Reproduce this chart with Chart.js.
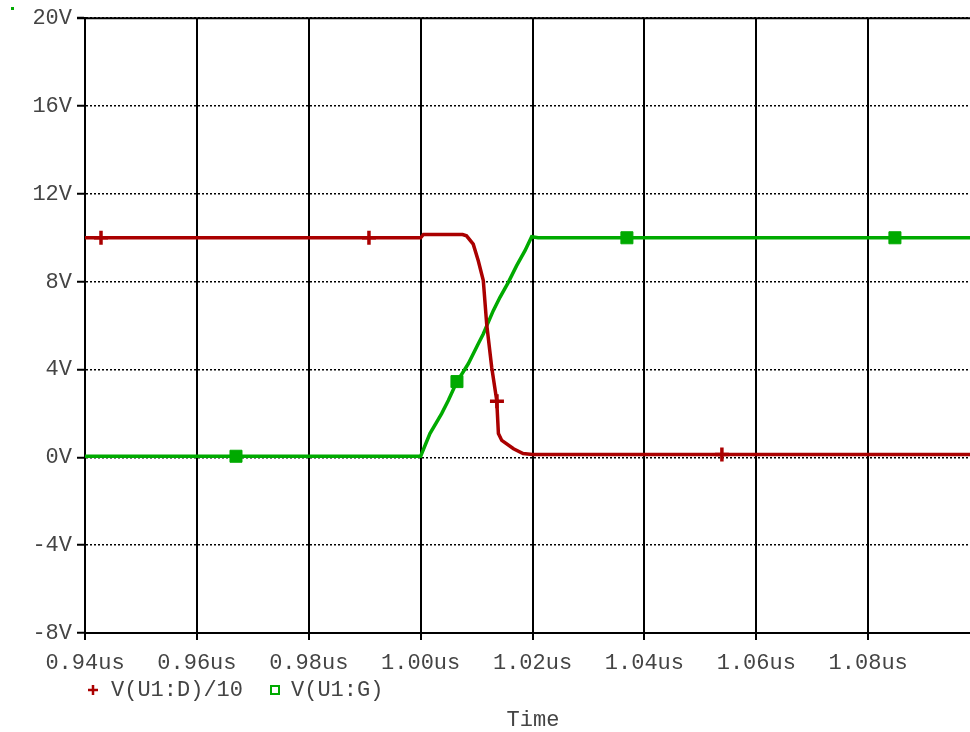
<!DOCTYPE html>
<html>
<head>
<meta charset="utf-8">
<script src="https://cdn.jsdelivr.net/npm/chart.js@4/dist/chart.umd.min.js"></script>
<style>
  html, body { margin: 0; padding: 0; background: #fff; }
  #wrap { width: 970px; height: 732px; position: relative; }
</style>
</head>
<body>
<div id="wrap"><canvas id="chart" width="970" height="732"></canvas></div>
<script>
// time in microseconds
const xTicks = [0.94, 0.96, 0.98, 1.00, 1.02, 1.04, 1.06, 1.08];
const yTicks = [-8, -4, 0, 4, 8, 12, 16, 20];

// V(U1:D)/10 trace
const drainT = [0.94, 1.000, 1.0005, 1.0075, 1.0082, 1.0094, 1.0103, 1.0112, 1.0118, 1.0127, 1.0136, 1.0139, 1.0145, 1.0166, 1.0183, 1.020, 1.0982];
const drainV = [10.0, 10.0, 10.15, 10.15, 10.09, 9.71, 8.95, 8.05, 6.08, 4.1, 2.59, 1.08, 0.77, 0.39, 0.17, 0.13, 0.13];
const drainMarkT = [0.94286, 0.99076, 1.01364, 1.05385];
const drainMarkV = [10.0, 10.0, 2.55, 0.13];

// V(U1:G) trace
const gateT = [0.94, 1.000, 1.00166, 1.00375, 1.00494, 1.00643, 1.00851, 1.0103, 1.01119, 1.01298, 1.01418, 1.01567, 1.01716, 1.01865, 1.01984, 1.021, 1.0982];
const gateV = [0.05, 0.05, 1.08, 1.99, 2.59, 3.42, 4.26, 5.17, 5.62, 6.68, 7.29, 7.97, 8.73, 9.41, 10.05, 10.0, 10.0];
const gateMarkT = [0.96699, 1.00649, 1.03687, 1.08478];
const gateMarkV = [0.05, 3.45, 10.0, 10.0];

const RED = '#aa0000';
const GREEN = '#00aa00';
const FONT = '"Liberation Mono", "Courier New", monospace';
const TEXT = '#444';

const pts = (xs, ys) => xs.map((x, i) => ({ x: x, y: ys[i] }));

// extra bits: top frame line, legend under the ticks, axis title
const extras = {
  id: 'extras',
  afterDraw(chart) {
    const ctx = chart.ctx;
    const a = chart.chartArea;
    ctx.save();
    ctx.strokeStyle = '#000';
    ctx.lineWidth = 2;
    ctx.beginPath();
    ctx.moveTo(a.left - 8, a.top);
    ctx.lineTo(a.right, a.top);
    ctx.stroke();

    // tiny green dot top-left
    ctx.fillStyle = GREEN;
    ctx.fillRect(11, 7, 3, 3);

    ctx.font = '22px ' + FONT;
    ctx.fillStyle = TEXT;
    ctx.textBaseline = 'middle';
    ctx.textAlign = 'left';

    // legend
    ctx.strokeStyle = RED;
    ctx.lineWidth = 2.5;
    ctx.beginPath();
    ctx.moveTo(88, 690); ctx.lineTo(98, 690);
    ctx.moveTo(93, 685); ctx.lineTo(93, 695);
    ctx.stroke();
    ctx.fillText('V(U1:D)/10', 111, 690);

    ctx.strokeStyle = GREEN;
    ctx.lineWidth = 2;
    ctx.strokeRect(271, 686, 8, 8);
    ctx.fillText('V(U1:G)', 291, 690);

    ctx.textAlign = 'center';
    ctx.fillText('Time', 533, 720);
    ctx.restore();
  }
};

new Chart(document.getElementById('chart').getContext('2d'), {
  type: 'line',
  data: {
    datasets: [
      { label: 'V(U1:D)/10', data: pts(drainT, drainV), borderColor: RED, borderWidth: 3.5, pointRadius: 0, tension: 0 },
      { label: 'V(U1:G)', data: pts(gateT, gateV), borderColor: GREEN, borderWidth: 3.5, pointRadius: 0, tension: 0 },
      { label: 'Dmark', data: pts(drainMarkT, drainMarkV), showLine: false, pointStyle: 'cross', pointRadius: 7,
        pointBorderColor: RED, pointBorderWidth: 3.5, pointBackgroundColor: RED },
      { label: 'Gmark', data: pts(gateMarkT, gateMarkV), showLine: false, pointStyle: 'rect', pointRadius: 8.5,
        pointBorderColor: GREEN, pointBackgroundColor: GREEN, pointBorderWidth: 1 }
    ]
  },
  options: {
    responsive: false,
    animation: false,
    layout: { autoPadding: false, padding: { top: 17, right: 0, bottom: 54, left: 0 } },
    plugins: { legend: { display: false }, tooltip: { enabled: false } },
    scales: {
      x: {
        type: 'linear',
        min: 0.94,
        max: 1.0982,
        afterBuildTicks: s => { s.ticks = xTicks.map(v => ({ value: v })); },
        afterFit: s => { s.height = 45; },
        ticks: {
          autoSkip: false, maxRotation: 0, padding: 10, color: TEXT,
          font: { family: FONT, size: 22 },
          callback: v => v.toFixed(2) + 'us'
        },
        grid: { color: '#000', lineWidth: 2, tickLength: 7, tickColor: '#000', tickWidth: 2 },
        border: { display: true, color: '#000', width: 2 }
      },
      y: {
        min: -8,
        max: 20,
        afterBuildTicks: s => { s.ticks = yTicks.map(v => ({ value: v })); },
        afterFit: s => { s.width = 85; },
        ticks: {
          padding: 5, color: TEXT,
          font: { family: FONT, size: 22 },
          callback: v => v + 'V'
        },
        grid: { color: '#000', lineWidth: 1.5, tickLength: 8, tickColor: '#000', tickWidth: 2, tickBorderDash: [] },
        border: { display: true, color: '#000', width: 2, dash: [2, 2] }
      }
    }
  },
  plugins: [extras]
});
</script>
</body>
</html>
